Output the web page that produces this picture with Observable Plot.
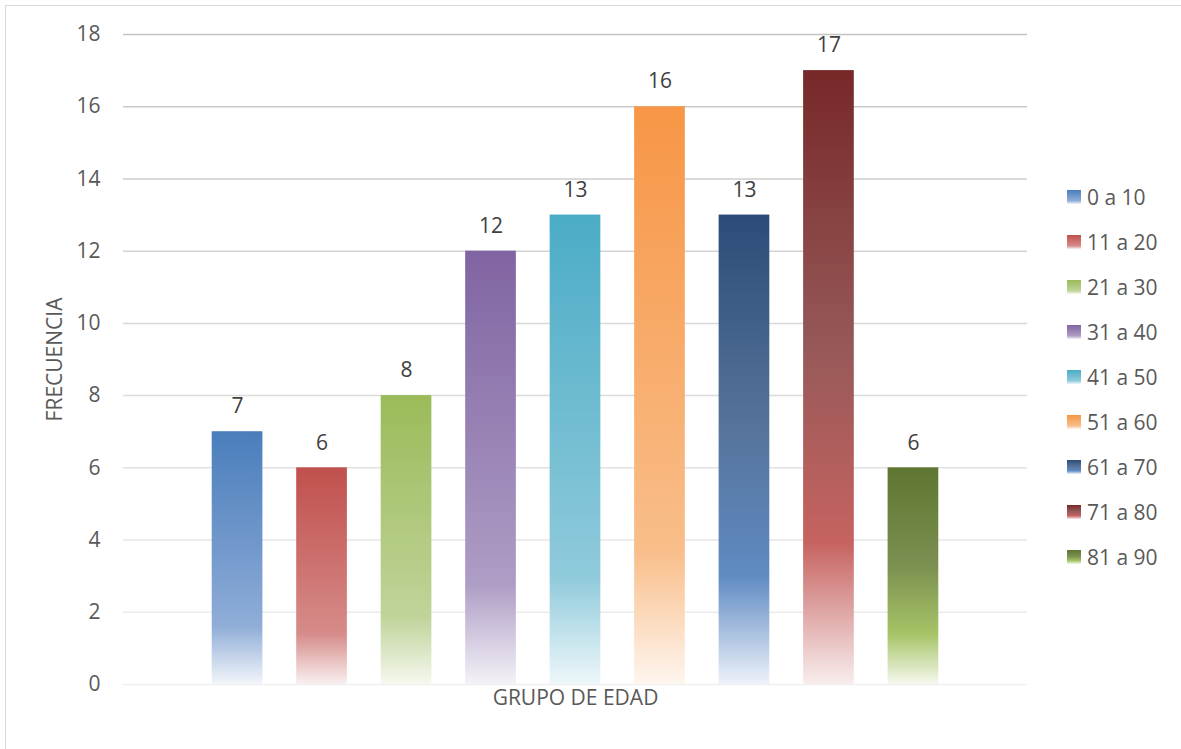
<!DOCTYPE html>
<html>
<head>
<meta charset="utf-8">
<script src="https://cdn.jsdelivr.net/npm/d3@7"></script>
<script src="https://cdn.jsdelivr.net/npm/@observablehq/plot@0.6"></script>
<style>
  body { margin: 0; background: #fff; }
  #wrap { position: relative; width: 1181px; height: 749px; overflow: hidden; background: #fff; font-family: "Open Sans", sans-serif; }
  #frame { position: absolute; left: 5px; top: 5px; width: 1200px; height: 800px; border-left: 1.5px solid #d9d9d9; border-top: 1.5px solid #d9d9d9; pointer-events: none; }
  #legend { position: absolute; left: 1067px; top: 174px; }
  .item { display: flex; align-items: center; height: 45px; font-size: 21px; color: #595959; }
  .sw { width: 14px; height: 14px; margin-right: 6px; }
</style>
</head>
<body>
<div id="wrap">
  <div id="chart"></div>
  <div id="frame"></div>
  <div id="legend"></div>
</div>
<script>
// Age groups and how many people fall in each
const groups = ["0 a 10", "11 a 20", "21 a 30", "31 a 40", "41 a 50", "51 a 60", "61 a 70", "71 a 80", "81 a 90"];
const freq = [7, 6, 8, 12, 13, 16, 13, 17, 6];
const yTicks = [0, 2, 4, 6, 8, 10, 12, 14, 16, 18];

// Gradient fill of each bar: solid at the top, fading to almost white at the base
const topColors  = ["#4a7ebb", "#c0504d", "#9bbb59", "#8064a2", "#4bacc6", "#f79646", "#2b4c77", "#772828", "#5e7631"];
const bodyColors = ["#7198cc", "#cd726f", "#b0c97e", "#9a85b6", "#72bdd2", "#f8ad6d", "#56739a", "#965958", "#7b8f50"];
const midColors  = ["#8fadd7", "#d68c8a", "#c0d49a", "#ae9dc5", "#8fcadb", "#f9be8a", "#5f8bc3", "#c66360", "#a6c466"];
const endColors  = ["#f2f5fa", "#f8f0f0", "#f5f8ef", "#f4f2f7", "#eef7fa", "#fef6ef", "#eef2f9", "#f8eded", "#f5f8ee"];

const data = groups.map((g, i) => ({ grupo: g, n: freq[i], fill: `url(#grad-${i})` }));
const gridColor = d3.interpolateRgb("#f0f0f0", "#c4c4c4");

const chart = Plot.plot({
  width: 1181,
  height: 749,
  marginLeft: 123,
  marginRight: 154,
  marginTop: 34,
  marginBottom: 65,
  style: { fontFamily: "'Open Sans', sans-serif", fontSize: "21px", color: "#595959", background: "transparent", overflow: "visible" },
  x: { domain: groups, paddingInner: 0.4, paddingOuter: 1.05, round: false, axis: null },
  y: { domain: [0, 18], axis: null },
  color: { type: "identity" },
  marks: [
    Plot.ruleY(yTicks, { stroke: d => gridColor(d / 18), strokeWidth: 1.5 }),
    Plot.barY(data, { x: "grupo", y: "n", fill: "fill" }),
    Plot.text(data, { x: "grupo", y: "n", text: d => String(d.n), dy: -25, fill: "#404040", fontSize: 21 }),
    Plot.axisY({ ticks: yTicks, tickSize: 0, tickPadding: 23, label: null, fontSize: 21 }),
    Plot.text(["GRUPO DE EDAD"], { frameAnchor: "bottom", dy: 20, textAnchor: "middle", fill: "#595959", fontSize: 21 }),
    Plot.text(["FRECUENCIA"], { frameAnchor: "left", rotate: -90, dx: -68, textAnchor: "middle", fill: "#595959", fontSize: 21 })
  ]
});

// Vertical gradients referenced by the bars
const defs = d3.select(chart).insert("defs", ":first-child");
groups.forEach((g, i) => {
  const lg = defs.append("linearGradient").attr("id", `grad-${i}`)
    .attr("x1", 0).attr("y1", 0).attr("x2", 0).attr("y2", 1);
  lg.append("stop").attr("offset", "0").attr("stop-color", topColors[i]);
  lg.append("stop").attr("offset", "0.45").attr("stop-color", bodyColors[i]);
  lg.append("stop").attr("offset", "0.77").attr("stop-color", midColors[i]);
  lg.append("stop").attr("offset", "1").attr("stop-color", endColors[i]);
});
document.getElementById("chart").appendChild(chart);

// Legend on the right
const legend = d3.select("#legend");
groups.forEach((g, i) => {
  const row = legend.append("div").attr("class", "item");
  row.append("div").attr("class", "sw")
    .style("background", `linear-gradient(to bottom, ${topColors[i]} 0%, ${bodyColors[i]} 45%, ${midColors[i]} 77%, ${endColors[i]} 100%)`);
  row.append("span").text(g);
});
</script>
</body>
</html>
